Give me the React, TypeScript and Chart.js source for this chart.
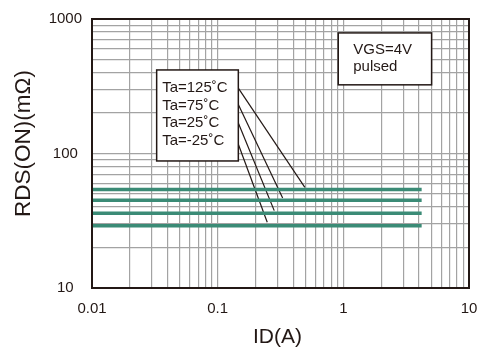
import { useEffect, useRef } from "react";
import { Chart, registerables } from "chart.js";

Chart.register(...registerables);

// ---- data ----
const currentStart = 0.01;
const currentEnd = 4.2;
const seriesLabels = ["Ta=125˚C", "Ta=75˚C", "Ta=25˚C", "Ta=-25˚C"];
const rdsValues = [54, 45, 36, 29];
const leaderStartX = [0.146, 0.146, 0.146, 0.146];
const leaderStartY = [306, 231, 168.6, 117];
const leaderEndX = [0.494, 0.329, 0.282, 0.248];
const leaderEndY = [56, 46.7, 37.6, 30.8];
const xTickLabels = [0.01, 0.1, 1, 10];
const yTickLabels = [10, 100, 1000];
const conditionLines = ["VGS=4V", "pulsed"];
const xTitle = "ID(A)";
const yTitle = "RDS(ON)(mΩ)";

const FONT = "'Liberation Sans', Arial, Helvetica, sans-serif";
const INK = "#231815";
const TEAL = "#3b8b76";

function logGrid(min: number, max: number) {
  const out: { value: number }[] = [];
  for (let e = Math.floor(Math.log10(min)); e <= Math.ceil(Math.log10(max)); e++) {
    for (let m = 1; m <= 9; m++) {
      const v = Number((m * Math.pow(10, e)).toPrecision(6));
      if (v >= min * 0.999 && v <= max * 1.001) out.push({ value: v });
    }
  }
  return out;
}

function isLabel(v: number, list: number[]) {
  return list.some((t) => Math.abs(v - t) / t < 1e-6);
}

const annotPlugin = {
  id: "annot",
  afterDatasetsDraw(chart: any) {
    const { ctx, chartArea: a, scales } = chart;
    const x = scales.x;
    const y = scales.y;
    ctx.save();
    // frame
    ctx.strokeStyle = INK;
    ctx.lineWidth = 2;
    ctx.strokeRect(a.left, a.top, a.right - a.left, a.bottom - a.top);

    // Ta legend box
    const bx1 = x.getPixelForValue(0.0327);
    const bx2 = x.getPixelForValue(0.146);
    const by1 = y.getPixelForValue(418);
    const by2 = y.getPixelForValue(88);
    ctx.fillStyle = "#fff";
    ctx.fillRect(bx1, by1, bx2 - bx1, by2 - by1);
    ctx.lineWidth = 1.5;
    ctx.strokeStyle = INK;
    ctx.strokeRect(bx1, by1, bx2 - bx1, by2 - by1);
    ctx.fillStyle = INK;
    ctx.font = `15px ${FONT}`;
    ctx.textAlign = "left";
    ctx.textBaseline = "middle";
    seriesLabels.forEach((s, i) => {
      ctx.fillText(s, bx1 + 5.5, by1 + 18 + i * 17.7);
    });

    // condition box
    const cx1 = x.getPixelForValue(0.911);
    const cx2 = x.getPixelForValue(5.04);
    const cy1 = y.getPixelForValue(788);
    const cy2 = y.getPixelForValue(324);
    ctx.fillStyle = "#fff";
    ctx.fillRect(cx1, cy1, cx2 - cx1, cy2 - cy1);
    ctx.strokeRect(cx1, cy1, cx2 - cx1, cy2 - cy1);
    ctx.fillStyle = INK;
    conditionLines.forEach((s, i) => {
      ctx.fillText(s, cx1 + 15, cy1 + 16.5 + i * 17.5);
    });

    // axis titles
    ctx.textAlign = "center";
    ctx.font = `21px ${FONT}`;
    ctx.fillText(xTitle, (a.left + a.right) / 2 - 3, a.bottom + 49.5);
    ctx.save();
    ctx.translate(a.left - 68, (a.top + a.bottom) / 2 - 10);
    ctx.rotate(-Math.PI / 2);
    ctx.font = `22.5px ${FONT}`;
    ctx.fillText(yTitle, 0, 0);
    ctx.restore();

    ctx.restore();
  },
};

export default function App() {
  const ref = useRef<HTMLCanvasElement | null>(null);
  useEffect(() => {
    document.body.style.margin = "0";
    if (!ref.current) return;
    const seriesSets = rdsValues.map((v, i) => ({
      label: seriesLabels[i],
      data: [
        { x: currentStart, y: v },
        { x: currentEnd, y: v },
      ],
      borderColor: TEAL,
      borderWidth: 3.5,
      pointRadius: 0,
      fill: false,
    }));
    const leaderSets = leaderStartX.map((sx, i) => ({
      label: "leader" + i,
      data: [
        { x: sx, y: leaderStartY[i] },
        { x: leaderEndX[i], y: leaderEndY[i] },
      ],
      borderColor: INK,
      borderWidth: 1.2,
      pointRadius: 0,
      fill: false,
    }));
    const chart = new Chart(ref.current, {
      type: "line",
      data: { datasets: [...seriesSets, ...leaderSets] as any },
      plugins: [annotPlugin],
      options: {
        animation: false,
        responsive: false,
        parsing: false as any,
        layout: { padding: { top: 17, right: 12, left: 0, bottom: 0 } },
        plugins: { legend: { display: false }, tooltip: { enabled: false } },
        scales: {
          x: {
            type: "logarithmic",
            min: 0.01,
            max: 10,
            afterBuildTicks: (s: any) => {
              s.ticks = logGrid(0.01, 10);
            },
            afterFit: (s: any) => {
              s.height = 63;
              s.paddingRight = 0;
              s.paddingLeft = 0;
            },
            grid: { color: "#a3a3a3", lineWidth: 1.2, drawTicks: false },
            border: { display: false },
            ticks: {
              autoSkip: false,
              maxRotation: 0,
              padding: 12,
              color: INK,
              font: { family: FONT, size: 15 },
              callback: (v: any) => (isLabel(Number(v), xTickLabels) ? String(Number(v)) : ""),
            },
          },
          y: {
            type: "logarithmic",
            min: 10,
            max: 1000,
            afterBuildTicks: (s: any) => {
              s.ticks = logGrid(10, 1000);
            },
            afterFit: (s: any) => {
              s.width = 92;
            },
            grid: { color: "#a3a3a3", lineWidth: 1.2, drawTicks: false },
            border: { display: false },
            ticks: {
              autoSkip: false,
              padding: 10,
              crossAlign: "center",
              color: INK,
              font: { family: FONT, size: 15 },
              callback: (v: any) => (isLabel(Number(v), yTickLabels) ? String(Number(v)) : ""),
            },
          },
        },
      },
    });
    return () => chart.destroy();
  }, []);
  return (
    <div style={{ width: 481, height: 351 }}>
      <canvas ref={ref} width={481} height={351} />
    </div>
  );
}
